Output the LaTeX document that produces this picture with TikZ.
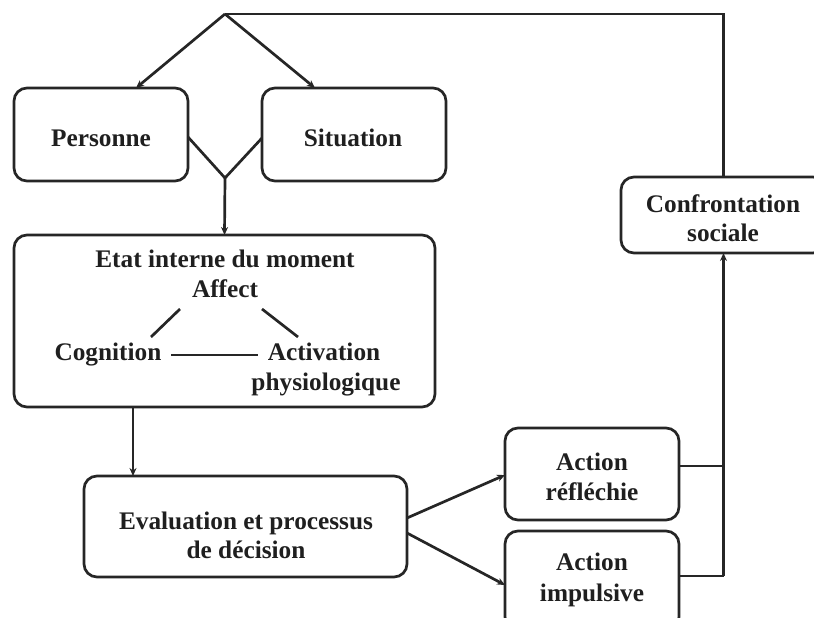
\documentclass[tikz,border=0pt]{standalone}
\usepackage{fontspec}
\setmainfont{Liberation Serif}
\usetikzlibrary{arrows.meta,calc}
\begin{document}
\begin{tikzpicture}[x=1pt,y=-1pt,
  box/.style={draw=black!85, line width=2.7pt, rounded corners=13pt, inner sep=0pt, outer sep=0pt},
  lbl/.style={inner sep=0pt, anchor=base, text=black!88, font=\fontsize{25.3}{30}\selectfont\bfseries},
  ln/.style={draw=black!85, line width=2.7pt},
  arr/.style={ln, -{Stealth[length=8pt,width=7pt]}}]
\useasboundingbox (0,0) rectangle (814,618);
\clip (0,0) rectangle (814,618);
% boxes
\node[box, minimum width=174pt, minimum height=93pt] (pers) at (101,134.5) {};
\node[box, minimum width=184pt, minimum height=93pt] (sit) at (354,134.5) {};
\node[box, minimum width=421pt, minimum height=172pt] (etat) at (224.5,321) {};
\node[box, minimum width=323pt, minimum height=101pt] (eval) at (245.5,526.5) {};
\node[box, minimum width=174pt, minimum height=92pt] (refl) at (592,474) {};
\node[box, minimum width=174pt, minimum height=99pt] (imp) at (592,580.5) {};
\node[box, minimum width=205pt, minimum height=76pt] (conf) at (723.5,215) {};
% texts
\node[lbl] (tpers) at (101,146) {Personne};
\node[lbl] (tsit) at (353,146) {Situation};
\node[lbl] (tetat) at (225,267) {Etat interne du moment};
\node[lbl] (aff) at (225,297) {Affect};
\node[lbl] (cog) at (108,360) {Cognition};
\node[lbl] (act) at (324,360) {Activation};
\node[lbl] (phys) at (326,390) {physiologique};
\node[lbl] (tev1) at (246,529) {Evaluation et processus};
\node[lbl] (tev2) at (246,558) {de décision};
\node[lbl] (tr1) at (592,470) {Action};
\node[lbl] (tr2) at (592,500) {réfléchie};
\node[lbl] (ti1) at (592,570) {Action};
\node[lbl] (ti2) at (592,601) {impulsive};
\node[lbl] (tc1) at (723,212) {Confrontation};
\node[lbl] (tc2) at (723,241) {sociale};
% coordinates
\coordinate (apex) at (225,14);
\coordinate (vj) at (225,178);
\coordinate (a1) at (180,309);
\coordinate (a2) at (151,337);
\coordinate (a3) at (262,309);
\coordinate (a4) at (298,337);
\coordinate (c1) at (171,355);
\coordinate (c2) at (258,355);
\coordinate (e1) at ($(etat.south west)+(119,0)$);
\coordinate (r1) at ($(refl.east)+(0,-8)$);
\coordinate (i1) at ($(imp.east)+(0,-4.5)$);
% connectors
\draw[arr] (apex) -- ($(pers.north)+(35,0)$);
\draw[arr] (apex) -- ($(sit.north)+(-39,0)$);
\draw[ln] (apex) -- (apex -| conf.north) -- (conf.north);
\draw[ln] ($(pers.east)+(0,2.5)$) -- (vj) -- ($(sit.west)+(0,3.5)$);
\draw[arr] (vj) -- (etat.north);
\draw[ln] (a1) -- (a2);
\draw[ln] (a3) -- (a4);
\draw[ln] (c1) -- (c2);
\draw[arr] (e1) -- (e1 |- eval.north);
\draw[arr] ($(eval.east)+(0,-8.5)$) -- ($(refl.west)+(0,1)$);
\draw[arr] ($(eval.east)+(0,6.5)$) -- ($(imp.west)+(0,4.5)$);
\draw[ln] (r1) -- (r1 -| conf.south);
\draw[ln] (i1) -- (i1 -| conf.south);
\draw[arr] (i1 -| conf.south) -- (conf.south);
\end{tikzpicture}
\end{document}
